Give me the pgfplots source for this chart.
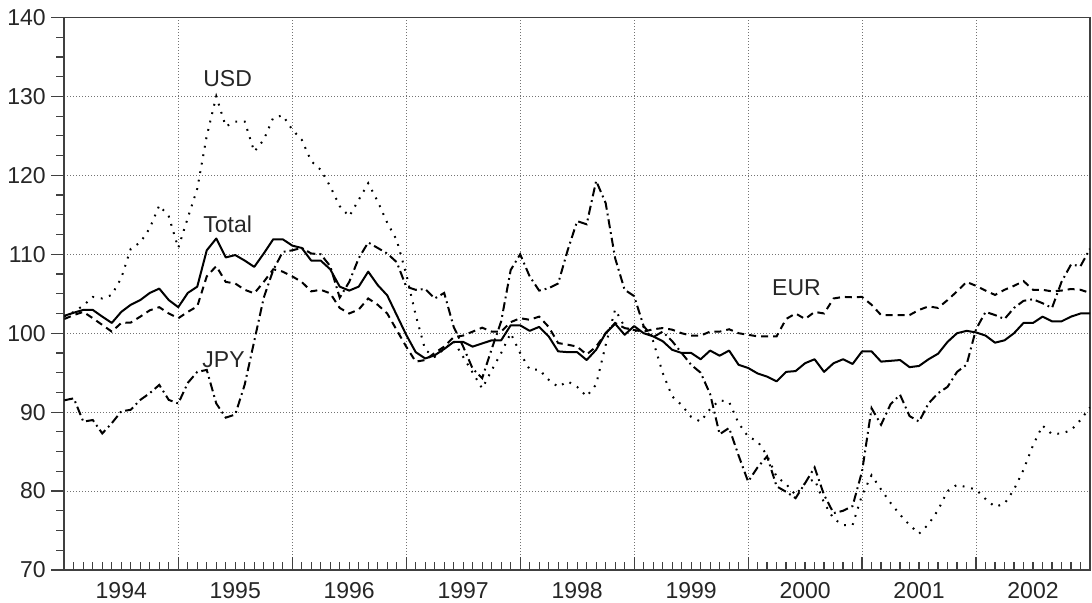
\documentclass[border=0pt]{standalone}
\usepackage{fontspec}
\setmainfont{Liberation Sans}
\usepackage{pgfplots}
\usepackage{pgfplotstable}
\pgfplotsset{compat=1.18}
\pgfplotstableread{
m tot eur usd jpy
0 102.2 101.8 102.1 91.5
1 102.6 102.3 102.7 91.75
2 102.95 102.7 103.5 88.8
3 102.95 101.9 104.6 89.0
4 102.1 101.05 104.4 87.3
5 101.3 100.2 104.85 88.6
6 102.7 101.3 107.0 90.1
7 103.6 101.35 110.7 90.3
8 104.2 102.1 111.5 91.55
9 105.1 102.9 113.3 92.4
10 105.65 103.3 116.2 93.45
11 104.2 102.5 114.8 91.55
12 103.3 101.9 110.8 91.1
13 105.1 102.7 114.6 93.7
14 105.9 103.4 118.3 95.1
15 110.5 107.2 125.0 95.35
16 112.0 108.5 130.0 91.1
17 109.6 106.5 126.2 89.3
18 109.9 106.3 126.8 89.7
19 109.2 105.5 126.8 93.5
20 108.4 105.05 123.0 99.0
21 110.1 106.5 124.5 104.5
22 111.9 108.1 127.3 108.0
23 111.9 107.8 127.6 110.3
24 111.1 107.2 125.8 110.5
25 110.8 106.5 124.5 110.8
26 109.2 105.3 121.8 110.1
27 109.2 105.5 120.7 110.0
28 108.1 105.05 118.6 108.5
29 105.9 103.2 116.1 104.5
30 105.4 102.5 114.8 106.5
31 105.9 103.0 116.9 109.5
32 107.8 104.4 119.0 111.5
33 106.1 103.6 116.7 110.8
34 104.8 102.5 114.0 110.1
35 102.3 100.4 111.8 109.0
36 99.8 98.3 107.5 105.9
37 97.6 96.4 102.3 105.5
38 96.8 96.6 97.9 105.6
39 97.2 97.5 97.0 104.4
40 98.0 98.3 98.0 105.1
41 98.9 99.5 99.0 100.8
42 98.9 99.7 97.0 98.3
43 98.3 100.2 95.0 95.5
44 98.7 100.7 93.0 94.3
45 99.1 100.2 95.3 98.0
46 99.1 100.2 97.5 101.5
47 101.0 101.4 100.0 108.0
48 101.0 101.9 97.5 110.0
49 100.3 101.7 95.4 107.2
50 100.8 102.1 95.4 105.4
51 99.6 100.8 94.1 105.7
52 97.7 98.75 93.2 106.3
53 97.6 98.55 93.9 110.5
54 97.6 98.3 93.2 114.2
55 96.6 97.3 92.0 113.8
56 97.9 98.3 93.5 119.3
57 100.0 100.0 98.5 116.5
58 101.2 101.3 103.0 109.5
59 99.8 100.65 100.8 105.5
60 100.9 100.4 100.2 104.7
61 100.0 100.2 100.8 100.9
62 99.6 100.5 99.0 99.5
63 99.0 100.65 95.0 100.2
64 97.9 100.45 92.0 99.0
65 97.5 100.0 90.9 97.5
66 97.5 99.7 89.4 96.0
67 96.7 99.7 88.8 95.0
68 97.8 100.2 90.4 92.3
69 97.15 100.2 91.5 87.2
70 97.8 100.5 91.3 88.0
71 96.0 100.0 88.6 84.5
72 95.6 99.8 86.9 81.2
73 94.9 99.6 86.3 83.0
74 94.5 99.6 84.5 84.4
75 93.9 99.6 81.8 80.6
76 95.1 101.8 80.9 79.9
77 95.2 102.5 79.5 79.1
78 96.2 101.8 81.0 81.0
79 96.7 102.7 81.5 83.0
80 95.1 102.5 78.5 79.5
81 96.2 104.4 76.5 77.2
82 96.7 104.6 75.7 77.5
83 96.1 104.55 75.7 78.1
84 97.7 104.6 79.5 82.5
85 97.7 103.6 82.0 90.5
86 96.4 102.3 80.2 88.4
87 96.5 102.3 78.5 91.0
88 96.6 102.3 77.0 92.2
89 95.7 102.3 75.7 89.5
90 95.85 102.95 74.6 88.8
91 96.7 103.4 75.8 91.1
92 97.4 103.2 77.6 92.4
93 98.9 104.2 80.0 93.2
94 100.0 105.3 80.8 95.1
95 100.3 106.5 80.5 96.0
96 100.1 106.0 80.2 100.5
97 99.7 105.4 79.0 102.7
98 98.8 104.85 78.0 102.3
99 99.1 105.5 78.4 101.8
100 100.0 106.0 80.2 103.2
101 101.3 106.6 82.7 104.1
102 101.3 105.5 85.8 104.3
103 102.1 105.5 88.3 103.8
104 101.5 105.3 87.2 103.2
105 101.5 105.4 87.3 106.5
106 102.1 105.6 87.7 108.7
107 102.5 105.5 89.0 108.5
108 102.5 105.1 90.6 110.7
}\data

\begin{document}
\begin{tikzpicture}
\begin{axis}[
  at={(0,0)}, anchor=south west,
  scale only axis, width=512.85pt, height=276.25pt,
  xmin=0, xmax=108, ymin=70, ymax=140,
  xtick={0,12,...,108}, xticklabels={},
  minor x tick num=11,
  extra x ticks={6,18,30,42,54,66,78,90,102},
  extra x tick labels={1994,1995,1996,1997,1998,1999,2000,2001,2002},
  extra x tick style={grid=none, tick style={draw=none}},
  ytick={70,80,...,140}, minor y tick num=3,
  xtick pos=bottom, ytick pos=left,
  tick align=inside,
  major tick length=6.5pt, minor tick length=4pt,
  major y tick style={xshift=-6.5pt},
  minor y tick style={xshift=-4pt},
  xmajorgrids, ymajorgrids,
  grid style={black!55, line width=0.5pt, dash pattern=on 0.5pt off 1pt},
  axis line style={black!75, line width=0.9pt},
  tick style={black!75, line width=0.6pt},
  tick label style={font=\fontsize{11.5}{13}\selectfont, text=black!85},
  xticklabel style={yshift=-2.7pt},
  yticklabel style={xshift=-5.8pt},
  /pgf/number format/assume math mode=true,
]
\addplot[black, no markers, line width=1pt, line join=round] table[x=m,y=tot]{\data};
\addplot[black, no markers, line width=1pt, dash pattern=on 3.5pt off 2.5pt] table[x=m,y=eur]{\data};
\addplot[black, no markers, line width=1pt, dash pattern=on 0.9pt off 3.4pt] table[x=m,y=usd]{\data};
\addplot[black, no markers, line width=1pt, dash pattern=on 4.5pt off 2pt on 0.9pt off 2pt] table[x=m,y=jpy]{\data};
\node[anchor=base west, inner sep=0, font=\fontsize{11.5}{13}\selectfont, text=black!85] at (axis cs:14.6,131.2) {USD};
\node[anchor=base west, inner sep=0, font=\fontsize{11.5}{13}\selectfont, text=black!85] at (axis cs:14.6,112.8) {Total};
\node[anchor=base west, inner sep=0, font=\fontsize{11.5}{13}\selectfont, text=black!85] at (axis cs:14.5,95.7) {JPY};
\node[anchor=base west, inner sep=0, font=\fontsize{11.5}{13}\selectfont, text=black!85] at (axis cs:74.5,104.8) {EUR};
\end{axis}
\pgfresetboundingbox
\path[use as bounding box] (-32.15pt,-16.5pt) rectangle (513.85pt,285pt);
\end{tikzpicture}
\end{document}
